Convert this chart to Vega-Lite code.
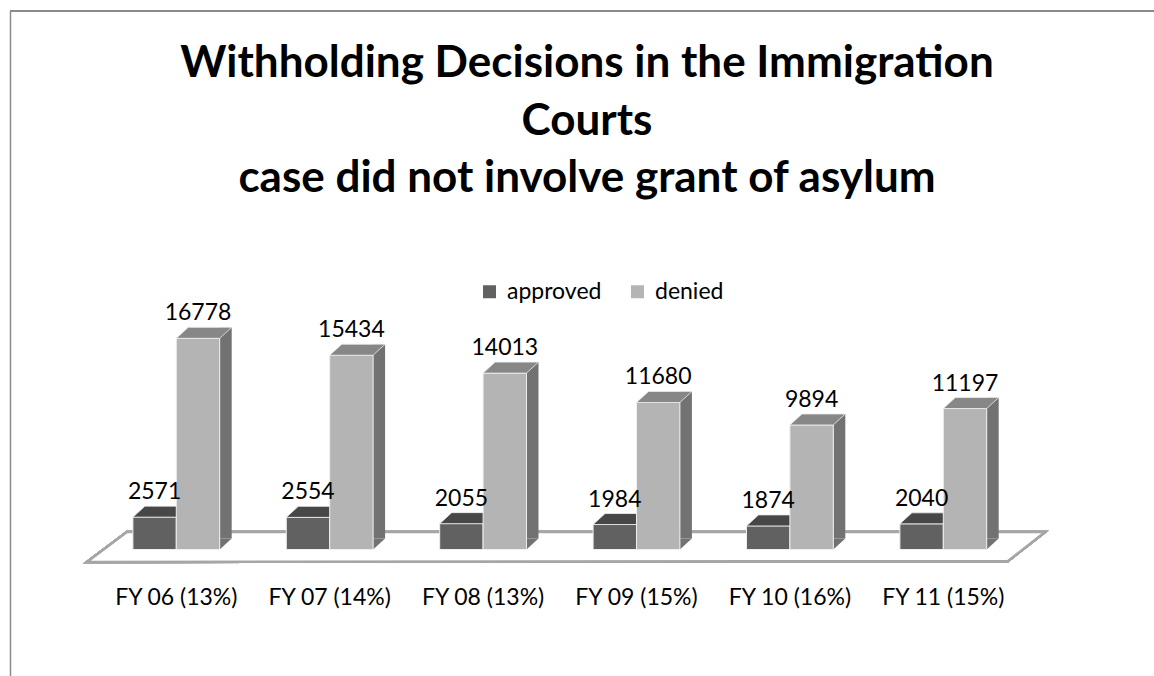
{
  "$schema": "https://vega.github.io/schema/vega-lite/v6.json",
  "width": 1144,
  "height": 665,
  "autosize": "none",
  "padding": {"left": 10, "top": 11, "right": 0, "bottom": 0},
  "background": "white",
  "config": {
    "view": {"stroke": null},
    "font": "Lato"
  },
  "title": {
    "text": ["Withholding Decisions in the Immigration", "Courts", "case did not involve grant of asylum"],
    "font": "Lato",
    "fontSize": 44,
    "fontWeight": "bold",
    "color": "#000000",
    "lineHeight": 57.5,
    "anchor": "middle",
    "frame": "group",
    "baseline": "alphabetic",
    "offset": 0,
    "dx": 5,
    "dy": 226
  },
  "data": {
    "values": [
      {"cat": "FY 06 (13%)", "series": "approved", "value": 2571},
      {"cat": "FY 06 (13%)", "series": "denied", "value": 16778},
      {"cat": "FY 07 (14%)", "series": "approved", "value": 2554},
      {"cat": "FY 07 (14%)", "series": "denied", "value": 15434},
      {"cat": "FY 08 (13%)", "series": "approved", "value": 2055},
      {"cat": "FY 08 (13%)", "series": "denied", "value": 14013},
      {"cat": "FY 09 (15%)", "series": "approved", "value": 1984},
      {"cat": "FY 09 (15%)", "series": "denied", "value": 11680},
      {"cat": "FY 10 (16%)", "series": "approved", "value": 1874},
      {"cat": "FY 10 (16%)", "series": "denied", "value": 9894},
      {"cat": "FY 11 (15%)", "series": "approved", "value": 2040},
      {"cat": "FY 11 (15%)", "series": "denied", "value": 11197}
    ]
  },
  "encoding": {
    "x": {
      "field": "cat",
      "type": "nominal",
      "sort": null,
      "scale": {
        "domain": ["FY 06 (13%)", "FY 07 (14%)", "FY 08 (13%)", "FY 09 (15%)", "FY 10 (16%)", "FY 11 (15%)"],
        "paddingInner": 0, "paddingOuter": 0.7288, "align": 0.4007
      },
      "axis": {
        "title": null,
        "orient": "bottom",
        "offset": -72,
        "domain": false,
        "ticks": false,
        "labelAngle": 0,
        "labelPadding": 0,
        "labelBaseline": "alphabetic",
        "labelDx": -10,
        "labelFont": "Lato",
        "labelFontSize": 23,
        "labelColor": "#000000"
      }
    },
    "y": {
      "field": "value",
      "type": "quantitative",
      "scale": {"domain": [-10049, 42779], "nice": false, "zero": false},
      "axis": {
        "title": null,
        "labels": false,
        "ticks": false,
        "grid": false,
        "domain": true,
        "domainColor": "#8a8a8a",
        "domainWidth": 1.5
      }
    }
  },
  "layer": [
    {
      "mark": {"type": "rule", "color": "#8a8a8a", "strokeWidth": 1.5},
      "encoding": {"x": null, "y": {"datum": 42779, "type": "quantitative"}}
    },
    {
      "mark": {
        "type": "point",
        "shape": "M-472.8,12.5 L448.2,11.5 L485.2,-17.5 L-432.8,-17.5 Z",
        "size": 4,
        "filled": true,
        "opacity": 1,
        "fill": "#ffffff",
        "stroke": "#a6a6a6",
        "strokeWidth": 2.5
      },
      "encoding": {
        "x": {"datum": "FY 08 (13%)", "type": "nominal", "bandPosition": 1},
        "y": {"datum": 0, "type": "quantitative"}
      }
    },
    {
      "transform": [{"filter": "datum.series === 'approved'"}],
      "mark": {"type": "bar", "width": 43.4, "xOffset": -21.7, "stroke": "#efefef", "strokeWidth": 1},
      "encoding": {
        "y2": {"datum": 0},
        "color": {
          "field": "series",
          "type": "nominal",
          "scale": {"domain": ["approved", "denied"], "range": ["#616161", "#b4b4b4"]},
          "legend": {
            "title": null,
            "orient": "none",
            "direction": "horizontal",
            "legendX": 468,
            "legendY": 269,
            "padding": 0,
            "symbolType": "square",
            "symbolSize": 169,
            "symbolStrokeWidth": 0,
            "symbolOpacity": 1,
            "labelFont": "Lato",
            "labelFontSize": 23,
            "labelColor": "#000000",
            "labelOffset": 6,
            "columnPadding": 24
          }
        }
      }
    },
    {
      "transform": [{"filter": "datum.series === 'approved'"}],
      "mark": {
        "type": "point",
        "shape": "M-21.7,0 L21.7,0 L33.7,-11 L-9.7,-11 Z",
        "size": 4,
        "filled": true,
        "opacity": 1,
        "fill": "#474747",
        "stroke": "#efefef",
        "strokeWidth": 0.8,
        "xOffset": -21.7
      }
    },
    {
      "transform": [{"filter": "datum.series === 'denied'"}],
      "mark": {"type": "bar", "width": 12, "xOffset": 49.4, "yOffset": -11, "y2Offset": -11, "color": "#727272"},
      "encoding": {"y2": {"datum": 0}}
    },
    {
      "transform": [{"filter": "datum.series === 'denied'"}],
      "mark": {
        "type": "point",
        "shape": "M0,0 L12,-11 L0,-11 Z",
        "size": 4,
        "filled": true,
        "opacity": 1,
        "fill": "#727272",
        "strokeWidth": 0,
        "xOffset": 43.4
      },
      "encoding": {"y": {"datum": 0, "type": "quantitative"}}
    },
    {
      "transform": [{"filter": "datum.series === 'denied'"}],
      "mark": {"type": "bar", "width": 43.4, "xOffset": 21.7, "stroke": "#efefef", "strokeWidth": 1},
      "encoding": {
        "y2": {"datum": 0},
        "color": {"field": "series", "type": "nominal", "legend": null}
      }
    },
    {
      "transform": [{"filter": "datum.series === 'denied'"}],
      "mark": {
        "type": "point",
        "shape": "M-21.7,0 L21.7,0 L33.7,-11 L-9.7,-11 Z",
        "size": 4,
        "filled": true,
        "opacity": 1,
        "fill": "#878787",
        "stroke": "#efefef",
        "strokeWidth": 0.8,
        "xOffset": 21.7
      }
    },
    {
      "transform": [{"filter": "datum.series === 'approved'"}],
      "mark": {"type": "text", "xOffset": -21.7, "dy": -18, "baseline": "alphabetic", "font": "Lato", "fontSize": 23, "color": "#000000"},
      "encoding": {"text": {"field": "value", "type": "quantitative", "format": "d"}}
    },
    {
      "transform": [{"filter": "datum.series === 'denied'"}],
      "mark": {"type": "text", "xOffset": 21.7, "dy": -18, "baseline": "alphabetic", "font": "Lato", "fontSize": 23, "color": "#000000"},
      "encoding": {"text": {"field": "value", "type": "quantitative", "format": "d"}}
    }
  ]
}
